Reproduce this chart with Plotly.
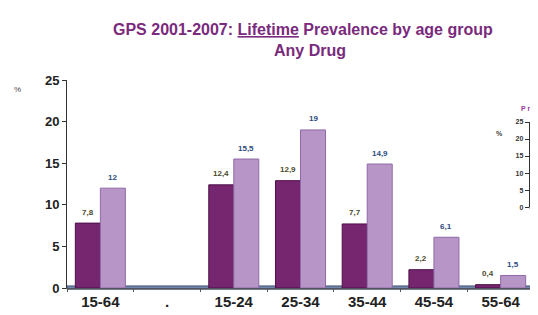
import plotly.graph_objects as go

categories = ["15-64", ".", "15-24", "25-34", "35-44", "45-54", "55-64"]
series_2001 = [7.8, None, 12.4, 12.9, 7.7, 2.2, 0.4]
series_2007 = [12, None, 15.5, 19, 14.9, 6.1, 1.5]
y_ticks = [0, 5, 10, 15, 20, 25]

DARK = "#76256F"
LIGHT = "#B795C6"
FONT = "Liberation Sans, Arial, sans-serif"
TITLE_COLOR = "#7A2A7C"


def fmt(v):
    return ("%g" % v).replace(".", ",")


fig = go.Figure()
fig.add_trace(go.Bar(x=categories, y=series_2001,
                     marker=dict(color=DARK, line=dict(color="#4E0F48", width=1)),
                     name="2001", hoverinfo="skip"))
fig.add_trace(go.Bar(x=categories, y=series_2007,
                     marker=dict(color=LIGHT, line=dict(color="#8F6AA8", width=1)),
                     name="2007", hoverinfo="skip"))
# invisible trace to show inset axes
fig.add_trace(go.Scatter(x=[0.5], y=[0], xaxis="x2", yaxis="y2", mode="markers",
                         marker=dict(opacity=0), hoverinfo="skip"))

annotations = []
for cat, v in zip(categories, series_2001):
    if v is None:
        continue
    annotations.append(dict(x=cat, y=v, xref="x", yref="y", text=fmt(v), showarrow=False,
                            xshift=-12.5, yshift=11,
                            font=dict(family=FONT, size=8, color="#4A4A2A", weight="bold")))
for cat, v in zip(categories, series_2007):
    if v is None:
        continue
    annotations.append(dict(x=cat, y=v, xref="x", yref="y", text=fmt(v), showarrow=False,
                            xshift=12.5, yshift=11,
                            font=dict(family=FONT, size=8, color="#2E4A7E", weight="bold")))

cx = (302 - 59) / 467
annotations += [
    dict(x=cx, y=1, xref="paper", yref="paper", yanchor="bottom", showarrow=False,
         text="GPS 2001-2007: <u>Lifetime</u> Prevalence by age group", yshift=40, xshift=-7,
         font=dict(family=FONT, size=16, color=TITLE_COLOR, weight="bold")),
    dict(x=cx, y=1, xref="paper", yref="paper", yanchor="bottom", showarrow=False,
         text="Any Drug", yshift=19,
         font=dict(family=FONT, size=16, color=TITLE_COLOR, weight="bold")),
    dict(x=-0.118, y=0.986, xref="paper", yref="paper", showarrow=False, text="%",
         font=dict(family=FONT, size=8, color="#444444")),
    dict(x=0.938, y=0.769, xref="paper", yref="paper", showarrow=False, text="%",
         font=dict(family=FONT, size=7, color="#444444", weight="bold")),
    dict(x=0.969, y=0.885, xref="paper", yref="paper", xanchor="left", showarrow=False,
         text="P\u00a0r\u00a0o", borderpad=0,
         font=dict(family=FONT, size=7, color="#9B3A9B", weight="bold")),
]

fig.update_layout(
    width=530, height=307,
    margin=dict(l=59, r=4, t=72, b=27, autoexpand=False),
    paper_bgcolor="white", plot_bgcolor="white",
    barmode="group", bargap=0.25, bargroupgap=0,
    showlegend=False,
    font=dict(family=FONT, color="#222222"),
    xaxis=dict(type="category", range=[-0.5, 6.5], showgrid=False, zeroline=False,
               showline=True, linecolor="#555555", linewidth=1,
               ticks="outside", tickson="boundaries", ticklen=3, tickcolor="#555555",
               automargin=False,
               tickfont=dict(family=FONT, size=15, color="#222222", weight="bold"), fixedrange=True),
    yaxis=dict(range=[0, 25], tickvals=y_ticks, showgrid=False, zeroline=False,
               showline=True, linecolor="#333333", linewidth=1,
               ticks="outside", ticklen=4, tickcolor="#333333", automargin=False,
               tickfont=dict(family=FONT, size=13, color="#222222", weight="bold"), fixedrange=True),
    xaxis2=dict(domain=[0.991, 1.0], anchor="y2", showticklabels=False, showgrid=False,
                zeroline=False, showline=False, range=[0, 1], automargin=False),
    yaxis2=dict(domain=[0.389, 0.798], anchor="x2", range=[0, 25], tickvals=y_ticks,
                showgrid=False, zeroline=False, showline=True, linecolor="#333333", linewidth=1,
                ticks="outside", ticklen=4, tickcolor="#333333", automargin=False,
                tickfont=dict(family=FONT, size=7, color="#333333", weight="bold")),
    annotations=annotations,
)

fig.add_shape(type="rect", xref="paper", yref="paper", x0=0, x1=1, y0=-0.006, y1=0.010,
              fillcolor="#6F84A6", line=dict(color="#4A5A78", width=1), layer="below")
fig.add_shape(type="rect", xref="paper", yref="paper", x0=0.991, x1=1.01, y0=0.383, y1=0.397,
              fillcolor="#6F84A6", line=dict(color="#4A5A78", width=1), layer="below")

fig.write_html("out.html")
